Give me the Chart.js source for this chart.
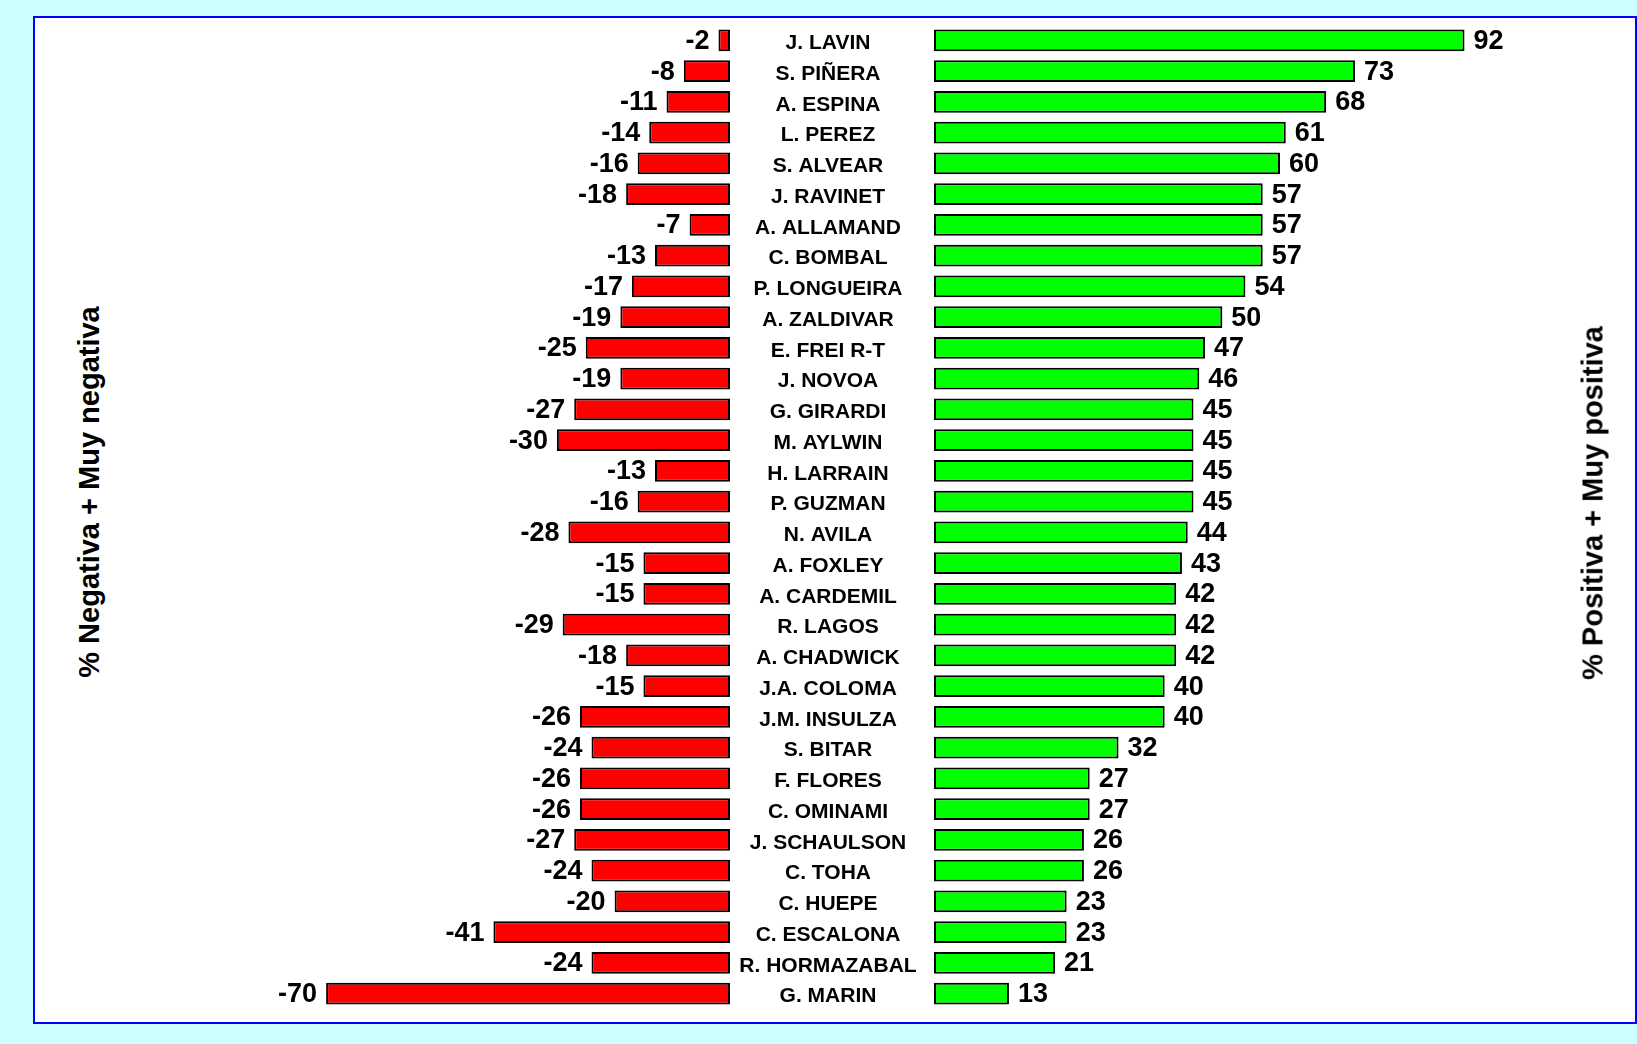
<!DOCTYPE html>
<html>
<head>
<meta charset="utf-8">
<script src="https://cdn.jsdelivr.net/npm/chart.js@4"></script>
<style>
  html, body { margin: 0; padding: 0; }
  body { width: 1637px; height: 1044px; background: #CCFFFF; position: relative; overflow: hidden; font-family: "Liberation Sans", Arial, sans-serif; }
  #panel { position: absolute; left: 33px; top: 16px; width: 1604px; height: 1008px; box-sizing: border-box; border: 2px solid #0000FF; background: #FFFFFF; }
  canvas { position: absolute; }
  .title { position: absolute; font: bold 29px "Liberation Sans", Arial, sans-serif; color: #000; white-space: nowrap; transform: translate(-50%, -50%) rotate(-90deg); }
</style>
</head>
<body>
<div id="panel"></div>
<canvas id="neg" width="577" height="984" style="left:153px; top:25px;"></canvas>
<canvas id="pos" width="896" height="984" style="left:730px; top:25px;"></canvas>
<div class="title" style="left:89px; top:492px;">% Negativa + Muy negativa</div>
<div class="title" style="left:1593px; top:503px;">% Positiva + Muy positiva</div>
<script>
const categories = [
  "J. LAVIN", "S. PIÑERA", "A. ESPINA", "L. PEREZ", "S. ALVEAR", "J. RAVINET",
  "A. ALLAMAND", "C. BOMBAL", "P. LONGUEIRA", "A. ZALDIVAR", "E. FREI R-T", "J. NOVOA",
  "G. GIRARDI", "M. AYLWIN", "H. LARRAIN", "P. GUZMAN", "N. AVILA", "A. FOXLEY",
  "A. CARDEMIL", "R. LAGOS", "A. CHADWICK", "J.A. COLOMA", "J.M. INSULZA", "S. BITAR",
  "F. FLORES", "C. OMINAMI", "J. SCHAULSON", "C. TOHA", "C. HUEPE", "C. ESCALONA",
  "R. HORMAZABAL", "G. MARIN"
];
const negativeValues = [
  -2, -8, -11, -14, -16, -18, -7, -13, -17, -19, -25, -19,
  -27, -30, -13, -16, -28, -15, -15, -29, -18, -15, -26, -24,
  -26, -26, -27, -24, -20, -41, -24, -70
];
const positiveValues = [
  92, 73, 68, 61, 60, 57, 57, 57, 54, 50, 47, 46,
  45, 45, 45, 45, 44, 43, 42, 42, 42, 40, 40, 32,
  27, 27, 26, 26, 23, 23, 21, 13
];
const negRange = [-100, 0];
const posRange = [0, 120];

const FONT = '"Liberation Sans", Arial, sans-serif';

const valueLabels = {
  id: 'valueLabels',
  afterDatasetsDraw(chart) {
    const ctx = chart.ctx;
    ctx.save();
    ctx.font = 'bold 27px ' + FONT;
    ctx.fillStyle = '#000';
    ctx.textBaseline = 'middle';
    chart.data.datasets.forEach((ds, di) => {
      const meta = chart.getDatasetMeta(di);
      meta.data.forEach((el, i) => {
        const v = ds.data[i];
        if (v < 0) { ctx.textAlign = 'right'; ctx.fillText(String(v), el.x - 9, el.y + 1); }
        else { ctx.textAlign = 'left'; ctx.fillText(String(v), el.x + 9, el.y + 1); }
      });
    });
    ctx.restore();
  }
};

const commonBar = {
  borderColor: '#000000',
  borderWidth: 2,
  borderSkipped: false,
  categoryPercentage: 1,
  barPercentage: 0.71
};

new Chart(document.getElementById('neg'), {
  type: 'bar',
  data: {
    labels: categories,
    datasets: [Object.assign({ data: negativeValues, backgroundColor: '#FF0000' }, commonBar)]
  },
  options: {
    indexAxis: 'y',
    responsive: false,
    animation: false,
    layout: { padding: 0 },
    plugins: { legend: { display: false }, tooltip: { enabled: false } },
    scales: {
      x: { type: 'linear', min: negRange[0], max: negRange[1], display: false },
      y: { display: false }
    }
  },
  plugins: [valueLabels]
});

// centre the category labels in the gap between the two bar groups
const measure = document.createElement('canvas').getContext('2d');
measure.font = 'bold 21px ' + FONT;
const widest = Math.max(...categories.map(c => measure.measureText(c).width));
const axisWidth = 204;
const labelCenterFromRight = 106;

new Chart(document.getElementById('pos'), {
  type: 'bar',
  data: {
    labels: categories,
    datasets: [Object.assign({ data: positiveValues, backgroundColor: '#00FF00' }, commonBar)]
  },
  options: {
    indexAxis: 'y',
    responsive: false,
    animation: false,
    layout: { padding: 0 },
    plugins: { legend: { display: false }, tooltip: { enabled: false } },
    scales: {
      x: { type: 'linear', min: posRange[0], max: posRange[1], display: false },
      y: {
        position: 'left',
        grid: { display: false, drawTicks: false },
        border: { display: false },
        afterFit(scale) {
          scale.width = axisWidth;
          scale.paddingTop = 0;
          scale.paddingBottom = 0;
        },
        ticks: {
          autoSkip: false,
          crossAlign: 'center',
          padding: labelCenterFromRight - widest / 2,
          labelOffset: 3,
          color: '#000',
          font: { family: FONT, size: 21, weight: 'bold' }
        }
      }
    }
  },
  plugins: [valueLabels]
});
</script>
</body>
</html>
